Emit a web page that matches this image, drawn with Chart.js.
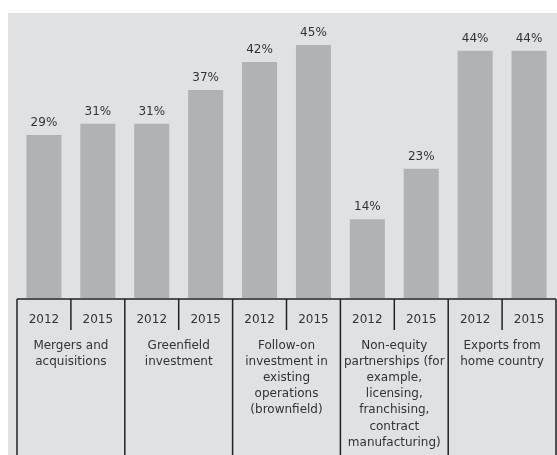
<!DOCTYPE html>
<html>
<head>
<meta charset="utf-8">
<script src="https://cdn.jsdelivr.net/npm/chart.js@4/dist/chart.umd.min.js"></script>
<style>
  html, body { margin: 0; padding: 0; background: #fff; }
</style>
</head>
<body>
<canvas id="graph" width="557" height="455"></canvas>
<script>
// share of respondents per entry mode, two survey years each
const years = ['2012', '2015', '2012', '2015', '2012', '2015', '2012', '2015', '2012', '2015'];
const shares = [29, 31, 31, 37, 42, 45, 14, 23, 44, 44];
const groups = [
  ['Mergers and', 'acquisitions'],
  ['Greenfield', 'investment'],
  ['Follow-on', 'investment in', 'existing', 'operations', '(brownfield)'],
  ['Non-equity', 'partnerships (for', 'example,', 'licensing,', 'franchising,', 'contract', 'manufacturing)'],
  ['Exports from', 'home country']
];

const FONT = 'DejaVu Sans';
const TEXT = '#333335';

// grey panel behind the chart
const panel = {
  id: 'panel',
  beforeDraw(chart) {
    const ctx = chart.ctx;
    ctx.save();
    ctx.fillStyle = '#ffffff';
    ctx.fillRect(0, 0, chart.width, chart.height);
    ctx.fillStyle = '#e0e1e3';
    ctx.fillRect(8, 13, chart.width - 8, chart.height - 13);
    ctx.restore();
  }
};

// percentage above each bar
const valueLabels = {
  id: 'valueLabels',
  afterDatasetsDraw(chart) {
    const ctx = chart.ctx;
    ctx.save();
    ctx.font = '12px "' + FONT + '"';
    ctx.fillStyle = TEXT;
    ctx.textAlign = 'center';
    ctx.textBaseline = 'middle';
    chart.getDatasetMeta(0).data.forEach((bar, i) => {
      ctx.fillText(shares[i] + '%', bar.x, bar.y - 12);
    });
    ctx.restore();
  }
};

// table frame under the bars
const frame = {
  id: 'frame',
  afterDraw(chart) {
    const ctx = chart.ctx;
    const xs = chart.scales.x;
    const half = (xs.getPixelForValue(1) - xs.getPixelForValue(0)) / 2;
    const bottom = chart.chartArea.bottom + 1;
    ctx.save();
    ctx.strokeStyle = '#222';
    ctx.lineWidth = 1.5;
    ctx.beginPath();
    ctx.moveTo(xs.getPixelForValue(0) - half, bottom);
    ctx.lineTo(xs.getPixelForValue(years.length - 1) + half, bottom);
    for (let i = 0; i <= years.length; i++) {
      const x = xs.getPixelForValue(Math.min(i, years.length - 1)) + (i === years.length ? half : -half);
      ctx.moveTo(x, bottom);
      ctx.lineTo(x, i % 2 === 0 ? chart.height : bottom + 31);
    }
    ctx.stroke();
    ctx.restore();
  }
};

new Chart(document.getElementById('graph'), {
  type: 'bar',
  data: {
    labels: years,
    datasets: [{
      data: shares,
      backgroundColor: '#b1b2b5',
      barPercentage: 0.65,
      categoryPercentage: 1
    }]
  },
  options: {
    responsive: false,
    animation: false,
    layout: { padding: { left: 17, right: 1, top: 17, bottom: 0 } },
    plugins: { legend: { display: false }, tooltip: { enabled: false } },
    scales: {
      y: { display: false, min: 0, max: 50 },
      x: {
        weight: 0,
        grid: { display: false },
        border: { display: false },
        ticks: { color: TEXT, font: { family: FONT, size: 12 }, padding: 7, maxRotation: 0, autoSkip: false },
        afterFit: (axis) => { axis.height = 40; }
      },
      groups: {
        type: 'category',
        position: 'bottom',
        weight: 1,
        labels: groups,
        offset: true,
        grid: { display: false, drawTicks: false },
        border: { display: false },
        ticks: { color: TEXT, font: { family: FONT, size: 12, lineHeight: 1.34 }, padding: 0, maxRotation: 0, autoSkip: false },
        afterFit: (axis) => { axis.height = 117; }
      }
    }
  },
  plugins: [panel, valueLabels, frame]
});
</script>
</body>
</html>
